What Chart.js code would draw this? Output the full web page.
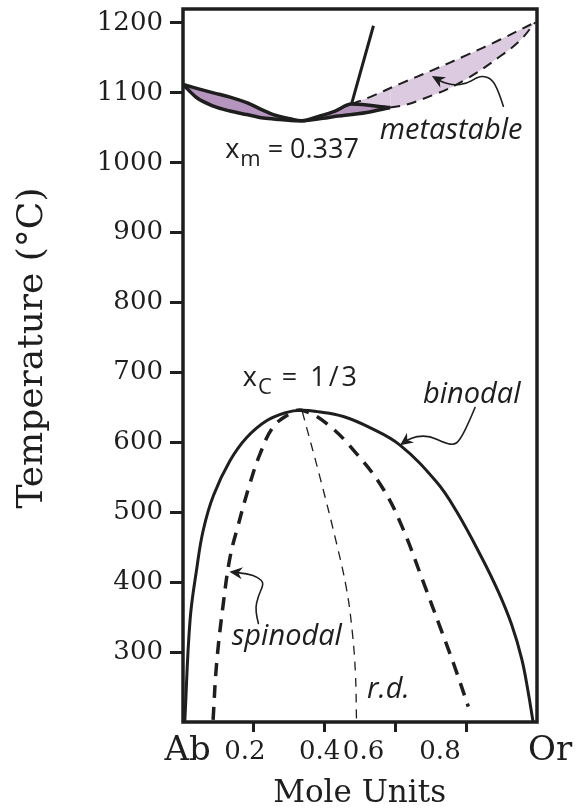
<!DOCTYPE html>
<html>
<head>
<meta charset="utf-8">
<script src="https://cdn.jsdelivr.net/npm/chart.js@4.4.0/dist/chart.umd.min.js"></script>
<style>
html,body{margin:0;padding:0;background:#ffffff;}
#wrap{width:577px;height:808px;position:relative;}
</style>
</head>
<body>
<div id="wrap"><canvas id="c" width="577" height="808"></canvas></div>
<script>
// ---------- data (mole fraction Or, temperature °C) ----------
const yTickValues = [300, 400, 500, 600, 700, 800, 900, 1000, 1100, 1200];
const xTickValues = [0.2, 0.4, 0.6, 0.8];
const xLabelText = ['Ab', '0.2', '0.4', '0.6', '0.8', 'Or'];
const xLabelAt   = [0.013, 0.175, 0.386, 0.51, 0.726, 1.037];
const yTitle = 'Temperature (°C)';
const xTitle = 'Mole Units';

const binodalX = [0.005, 0.02, 0.039, 0.057, 0.086, 0.133, 0.18, 0.236, 0.293, 0.333, 0.38, 0.453, 0.528, 0.613, 0.717, 0.773, 0.843, 0.891, 0.9285, 0.957, 0.975, 0.989];
const binodalT = [200, 346, 420, 474, 524, 574, 607, 631, 643, 646, 644, 637, 621, 596, 543, 501, 436, 386, 339, 290, 243, 200];

const spinodalX = [0.085, 0.095, 0.114, 0.133, 0.155, 0.189, 0.218, 0.255, 0.302, 0.335, 0.406, 0.49, 0.566, 0.62, 0.679, 0.726, 0.764, 0.806];
const spinodalT = [203, 284, 370, 436, 480, 541, 584, 622, 641, 646, 627, 584, 533, 478, 400, 336, 284, 222];

const rdX = [0.337, 0.387, 0.434, 0.462, 0.478, 0.487, 0.49];
const rdT = [644, 550, 455, 390, 330, 270, 205];

const liqX = [0, 0.086, 0.133, 0.18, 0.227, 0.255, 0.302, 0.335, 0.387, 0.43, 0.476, 0.585];
const liqT = [1112, 1100, 1094, 1086, 1075, 1069, 1063, 1060, 1067, 1074, 1084, 1079];

const solX = [0, 0.039, 0.086, 0.133, 0.18, 0.227, 0.274, 0.335, 0.425, 0.519, 0.585];
const solT = [1112, 1093, 1081, 1074, 1069, 1064, 1062, 1060, 1066, 1072, 1079];

const metaUpX = [0.476, 0.528, 0.613, 0.707, 0.801, 0.895, 0.995];
const metaUpT = [1084, 1094, 1113, 1133, 1154, 1176, 1201];

const metaLowX = [0.476, 0.585, 0.707, 0.801, 0.895, 0.952, 0.995];
const metaLowT = [1084, 1079, 1097, 1120, 1152, 1175, 1201];

const steepX = [0.476, 0.538];
const steepT = [1084, 1196];

// annotations (data units)
const noteText = ['metastable', 'binodal', 'spinodal', 'r.d.'];
const noteX = [0.556, 0.678, 0.138, 0.52];
const noteT = [1034, 657, 310, 234];

const subNoteMain = ['x', 'x'];
const subNoteSub  = ['m', 'C'];
const subNoteRest = [' = 0.337', ' = 1/3'];
const subNoteX = [0.119, 0.169];
const subNoteT = [1007, 681];

const arrowMetaX = [0.905, 0.891, 0.872, 0.848, 0.830, 0.801, 0.764, 0.735, 0.703];
const arrowMetaT = [1081, 1103, 1120, 1124, 1122, 1113, 1111, 1115, 1124];
const arrowBinX = [0.825, 0.806, 0.782, 0.764, 0.735, 0.698, 0.660, 0.632, 0.613];
const arrowBinT = [650, 627, 603, 596, 600, 609, 609, 603, 596];
const arrowSpinX = [0.213, 0.203, 0.213, 0.227, 0.222, 0.199, 0.166, 0.131];
const arrowSpinT = [341, 360, 381, 396, 403, 410, 413, 415];

const pts = (xs, ts) => xs.map((x, i) => ({x: x, y: ts[i]}));

const INK = '#1e1e1e';
const DARK_PURPLE = '#b595bd';
const LIGHT_PURPLE = '#dccbe0';
const SERIF = '"DejaVu Serif", "Liberation Serif", serif';
const SANS = '"Open Sans", "Noto Sans", sans-serif';
const SUB_REST_SPACING = ['0px', '3px'];

const smooth = {pointRadius: 0, pointHoverRadius: 0, tension: 0.4, fill: false};
const mono = {pointRadius: 0, pointHoverRadius: 0, cubicInterpolationMode: 'monotone', fill: false};

const datasets = [
  Object.assign({}, smooth, {label: 'binodal', data: pts(binodalX, binodalT), borderColor: INK, borderWidth: 3}),
  Object.assign({}, smooth, {label: 'spinodal', data: pts(spinodalX, spinodalT), borderColor: INK, borderWidth: 3.5, borderDash: [13, 9]}),
  Object.assign({}, smooth, {label: 'r.d.', data: pts(rdX, rdT), borderColor: INK, borderWidth: 1.3, borderDash: [9, 7]}),
  Object.assign({}, mono, {label: 'liquidus', data: pts(liqX, liqT), borderColor: INK, borderWidth: 3.5}),
  Object.assign({}, mono, {label: 'solidus', data: pts(solX, solT), borderColor: INK, borderWidth: 3.5, fill: 3, backgroundColor: DARK_PURPLE}),
  Object.assign({}, smooth, {label: 'meta upper', data: pts(metaUpX, metaUpT), borderColor: INK, borderWidth: 2, borderDash: [10, 7]}),
  Object.assign({}, smooth, {label: 'meta lower', data: pts(metaLowX, metaLowT), borderColor: INK, borderWidth: 2, borderDash: [10, 7],
    fill: 5, backgroundColor: LIGHT_PURPLE,
    segment: {borderColor: ctx => ctx.p0DataIndex === 0 ? 'rgba(0,0,0,0)' : INK}}),
  Object.assign({}, smooth, {label: 'steep', data: pts(steepX, steepT), borderColor: INK, borderWidth: 3, tension: 0})
];

function smoothPath(ctx, p) {
  ctx.beginPath();
  ctx.moveTo(p[0][0], p[0][1]);
  for (let i = 1; i < p.length - 1; i++) {
    const mx = (p[i][0] + p[i + 1][0]) / 2, my = (p[i][1] + p[i + 1][1]) / 2;
    ctx.quadraticCurveTo(p[i][0], p[i][1], mx, my);
  }
  const n = p.length - 1;
  ctx.lineTo(p[n][0], p[n][1]);
  ctx.stroke();
}
function arrowHead(ctx, tip, from) {
  const a = Math.atan2(tip[1] - from[1], tip[0] - from[0]);
  const L = 13, W = 6, N = 9;
  ctx.save();
  ctx.translate(tip[0], tip[1]);
  ctx.rotate(a);
  ctx.beginPath();
  ctx.moveTo(0, 0);
  ctx.lineTo(-L, -W);
  ctx.lineTo(-N, 0);
  ctx.lineTo(-L, W);
  ctx.closePath();
  ctx.fill();
  ctx.restore();
}
function drawArrow(ctx, xs, ts, sx, sy) {
  const p = xs.map((x, i) => [sx.getPixelForValue(x), sy.getPixelForValue(ts[i])]);
  ctx.save();
  ctx.strokeStyle = INK; ctx.fillStyle = INK; ctx.lineWidth = 1.6; ctx.lineCap = 'round';
  const n = p.length - 1;
  const dx = p[n][0] - p[n - 1][0], dy = p[n][1] - p[n - 1][1];
  const d = Math.hypot(dx, dy);
  const q = p.slice(0, n).concat([[p[n][0] - dx / d * 8, p[n][1] - dy / d * 8]]);
  smoothPath(ctx, q);
  arrowHead(ctx, p[n], p[n - 1]);
  ctx.restore();
}

const deco = {
  id: 'deco',
  afterDatasetsDraw(chart) {
    const {ctx, chartArea: a} = chart;
    ctx.save();
    ctx.strokeStyle = INK;
    ctx.lineWidth = 3.5;
    ctx.strokeRect(a.left, a.top, a.right - a.left, a.bottom - a.top);
    ctx.restore();
  },
  afterDraw(chart) {
    const {ctx, chartArea: a} = chart;
    const sx = chart.scales.x, sy = chart.scales.y;
    ctx.save();
    ctx.fillStyle = INK;
    ctx.textBaseline = 'alphabetic';
    // y axis title (rotated)
    ctx.save();
    ctx.translate(42, sy.getPixelForValue(735));
    ctx.rotate(-Math.PI / 2);
    ctx.textAlign = 'center';
    ctx.font = '36px ' + SERIF;
    ctx.fillText(yTitle, 0, 0);
    ctx.restore();
    // x axis title
    ctx.textAlign = 'center';
    ctx.font = '31px ' + SERIF;
    ctx.fillText(xTitle, sx.getPixelForValue(0.499), a.bottom + 80);
    // x tick labels
    xLabelText.forEach((t, i) => {
      const big = isNaN(parseFloat(t));
      ctx.font = (big ? '34px ' : '26px ') + SERIF;
      ctx.fillText(t, sx.getPixelForValue(xLabelAt[i]), a.bottom + (big ? 38 : 37));
    });
    // italic notes
    ctx.textAlign = 'left';
    ctx.font = 'italic 29px ' + SANS;
    noteText.forEach((t, i) => {
      ctx.fillText(t, sx.getPixelForValue(noteX[i]), sy.getPixelForValue(noteT[i]));
    });
    // subscript notes
    subNoteMain.forEach((t, i) => {
      let x = sx.getPixelForValue(subNoteX[i]);
      const y = sy.getPixelForValue(subNoteT[i]);
      ctx.font = '27px ' + SANS;
      ctx.fillText(t, x, y);
      x += ctx.measureText(t).width + 1;
      ctx.font = '22px ' + SANS;
      ctx.fillText(subNoteSub[i], x, y + 8);
      x += ctx.measureText(subNoteSub[i]).width;
      ctx.font = '27px ' + SANS;
      ctx.letterSpacing = SUB_REST_SPACING[i];
      ctx.fillText(subNoteRest[i], x, y);
      ctx.letterSpacing = '0px';
    });
    ctx.restore();
    drawArrow(ctx, arrowMetaX, arrowMetaT, sx, sy);
    drawArrow(ctx, arrowBinX, arrowBinT, sx, sy);
    drawArrow(ctx, arrowSpinX, arrowSpinT, sx, sy);
  }
};

const zeroPad = s => { s.paddingTop = 0; s.paddingBottom = 0; s.paddingLeft = 0; s.paddingRight = 0; };

new Chart(document.getElementById('c'), {
  type: 'line',
  data: {datasets: datasets},
  plugins: [deco],
  options: {
    responsive: false,
    devicePixelRatio: 1,
    animation: false,
    events: [],
    layout: {padding: {top: 9, right: 40, bottom: 0, left: 0}},
    plugins: {
      legend: {display: false},
      tooltip: {enabled: false},
      filler: {drawTime: 'beforeDatasetsDraw'}
    },
    scales: {
      x: {
        type: 'linear', min: 0, max: 1,
        afterBuildTicks: s => { s.ticks = xTickValues.map(v => ({value: v})); },
        afterFit: s => { s.height = 86; zeroPad(s); },
        border: {display: false},
        grid: {drawOnChartArea: false, drawTicks: true, tickLength: 10, tickWidth: 3, tickColor: INK},
        ticks: {display: false},
        title: {display: false}
      },
      y: {
        type: 'linear', min: 200, max: 1220,
        afterBuildTicks: s => { s.ticks = yTickValues.map(v => ({value: v})); },
        afterFit: s => { s.width = 183; zeroPad(s); },
        border: {display: false},
        grid: {drawOnChartArea: false, drawTicks: true, tickLength: 13, tickWidth: 3, tickColor: INK},
        ticks: {color: INK, padding: 7, font: {family: SERIF, size: 26}, callback: v => String(v)},
        title: {display: false}
      }
    }
  }
});
</script>
</body>
</html>
